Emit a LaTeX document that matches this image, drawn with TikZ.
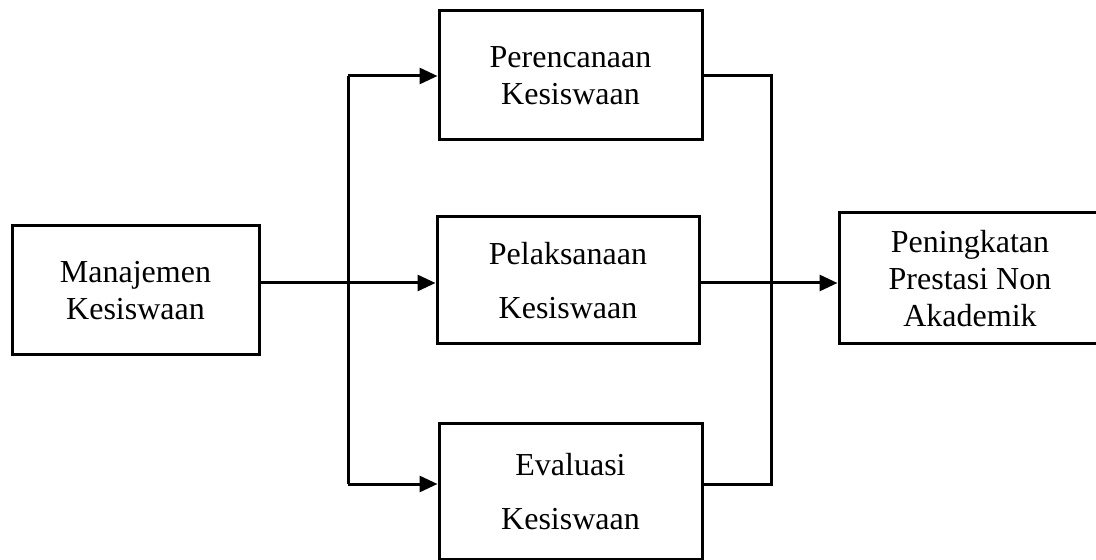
\documentclass[tikz,border=0pt]{standalone}
\usepackage{fontspec}
\setmainfont{Liberation Serif}
\usetikzlibrary{positioning,arrows.meta,calc}

\tikzset{
    box/.style={draw, line width=1.5pt, align=center, inner sep=0pt, font=\fontsize{16}{18.5}\selectfont},
    flow/.style={line width=1.5pt},
    arr/.style={line width=1.5pt, -{Triangle[length=9pt,width=8pt]}}
}

\begin{document}
\begin{tikzpicture}[x=0.5pt, y=-0.5pt]
    \useasboundingbox (0,0) rectangle (1096,560);

    \node (manajemen) [box, minimum width=123.5pt, minimum height=64.5pt] at (135.5,290.5) {Manajemen \\ Kesiswaan};
    \node (perencanaan) [box, minimum width=131.5pt, minimum height=64.5pt] at (570.5,75.5) {Perencanaan \\ Kesiswaan};
    \node (pelaksanaan) [box, minimum width=131pt, minimum height=63.5pt] at (568,280.5) {Pelaksanaan \\[8.5pt] Kesiswaan};
    \node (evaluasi) [box, minimum width=131.5pt, minimum height=67.5pt] at (570.5,491.5) {Evaluasi \\[8.5pt] Kesiswaan};
    \node (peningkatan) [box, minimum width=131pt, minimum height=65.5pt] at (970,278.5) {Peningkatan \\ Prestasi Non \\ Akademik};

    \coordinate (splitL) at (348,283);
    \coordinate (topL) at (348,76);
    \coordinate (botL) at (348,484);
    \coordinate (topR) at (771,76);
    \coordinate (botR) at (771,484);

    \draw[flow] (manajemen.east |- splitL) -- (splitL);
    \draw[arr] (splitL) -- (pelaksanaan.west |- splitL);
    \draw[flow] (topL) -- (botL);
    \draw[arr] (topL) -- (perencanaan.west |- topL);
    \draw[arr] (botL) -- (evaluasi.west |- botL);
    \draw[flow] (perencanaan.east |- topR) -- (topR) -- (botR) -- (evaluasi.east |- botR);
    \draw[arr] (pelaksanaan.east |- splitL) -- (peningkatan.west |- splitL);
\end{tikzpicture}
\end{document}
